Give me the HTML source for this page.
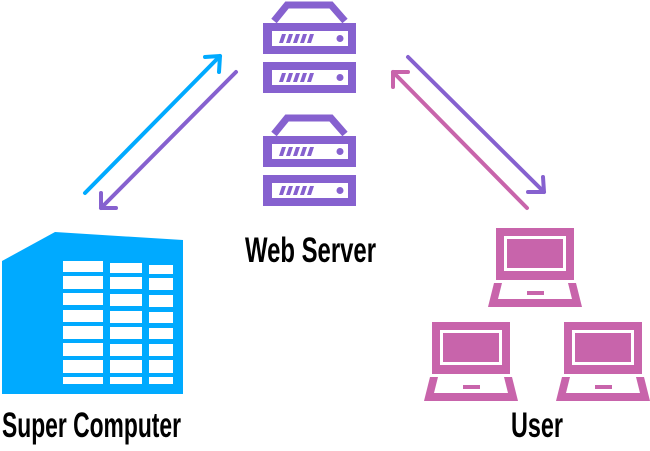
<!DOCTYPE html>
<html><head><meta charset="utf-8"><style>
html,body{margin:0;padding:0;background:#fff;width:650px;height:451px;overflow:hidden}
svg{display:block}
text{font-family:"Liberation Sans",sans-serif;font-weight:bold;fill:#000}
</style></head><body>
<svg width="650" height="451" viewBox="0 0 650 451" xmlns="http://www.w3.org/2000/svg">
<defs>
<g id="unit">
  <rect x="263" y="0" width="93" height="31" fill="#8661cf"/>
  <rect x="272" y="8" width="76" height="15" fill="#fff"/>
  <g fill="#8661cf">
    <polygon points="279,20 282,11 286,11 283,20"/>
    <polygon points="286,20 289,11 293,11 290,20"/>
    <polygon points="293,20 296,11 300,11 297,20"/>
    <polygon points="300,20 303,11 307,11 304,20"/>
    <polygon points="307,20 310,11 314,11 311,20"/>
    <circle cx="340" cy="15.5" r="3.5"/>
  </g>
</g>
<g id="server">
  <polyline points="274,21 287,5 331,5 345,21" fill="none" stroke="#8661cf" stroke-width="7" stroke-linejoin="miter"/>
  <use href="#unit" y="23"/>
  <use href="#unit" y="62"/>
</g>
<g id="laptop">
  <rect x="0" y="0" width="78" height="52" fill="#c864ab"/>
  <rect x="8" y="8" width="62" height="35" fill="#fff"/>
  <rect x="11" y="11" width="56" height="29" fill="#c864ab"/>
  <polygon points="-2,55 80,55 86,79 -8,79" fill="#c864ab"/>
  <polygon points="6,55 72,55 76,71 2,71" fill="#fff"/>
  <rect x="31" y="63" width="17" height="4" fill="#c864ab"/>
</g>
</defs>

<use href="#server"/>
<use href="#server" y="113"/>

<polygon points="2,261 55,232 183,240 183,394 2,394" fill="#00aaff"/>
<g fill="#fff">
  <rect x="63" y="261" width="40" height="11"/><rect x="110" y="263" width="32" height="10"/><rect x="149" y="265" width="24" height="9"/>
  <rect x="63" y="276" width="40" height="13"/><rect x="110" y="277" width="32" height="12"/><rect x="149" y="278" width="24" height="12"/>
  <rect x="63" y="293" width="40" height="12"/><rect x="110" y="294" width="32" height="12"/><rect x="149" y="295" width="24" height="12"/>
  <rect x="63" y="310" width="40" height="12"/><rect x="110" y="311" width="32" height="12"/><rect x="149" y="312" width="24" height="11"/>
  <rect x="63" y="326" width="40" height="13"/><rect x="110" y="327" width="32" height="12"/><rect x="149" y="328" width="24" height="11"/>
  <rect x="63" y="343" width="40" height="13"/><rect x="110" y="344" width="32" height="12"/><rect x="149" y="344" width="24" height="12"/>
  <rect x="63" y="360" width="40" height="13"/><rect x="110" y="360" width="32" height="13"/><rect x="149" y="360" width="24" height="13"/>
  <rect x="63" y="377" width="40" height="7"/><rect x="110" y="377" width="32" height="7"/><rect x="149" y="377" width="24" height="7"/>
</g>

<use href="#laptop" transform="translate(496,228)"/>
<use href="#laptop" transform="translate(432,322)"/>
<use href="#laptop" transform="translate(564,322)"/>

<g fill="none" stroke-width="4" stroke-linecap="round" stroke-linejoin="round">
  <g stroke="#00aaff"><line x1="85" y1="193" x2="220" y2="56"/><polyline points="205,57 220,56 219,72"/></g>
  <g stroke="#8661cf"><line x1="236" y1="72" x2="101" y2="208"/><polyline points="101,193 101,208 116,208"/></g>
  <g stroke="#8661cf"><line x1="408" y1="57" x2="544" y2="192"/><polyline points="543,177 544,192 528,192"/></g>
  <g stroke="#c864ab"><line x1="527" y1="208" x2="393" y2="72"/><polyline points="393,87 393,72 408,72"/></g>
</g>

<text x="245" y="262" font-size="35" textLength="131" lengthAdjust="spacingAndGlyphs">Web Server</text>
<text x="2" y="437" font-size="35" textLength="179" lengthAdjust="spacingAndGlyphs">Super Computer</text>
<text x="511" y="437" font-size="35" textLength="52" lengthAdjust="spacingAndGlyphs">User</text>
</svg>
</body></html>
